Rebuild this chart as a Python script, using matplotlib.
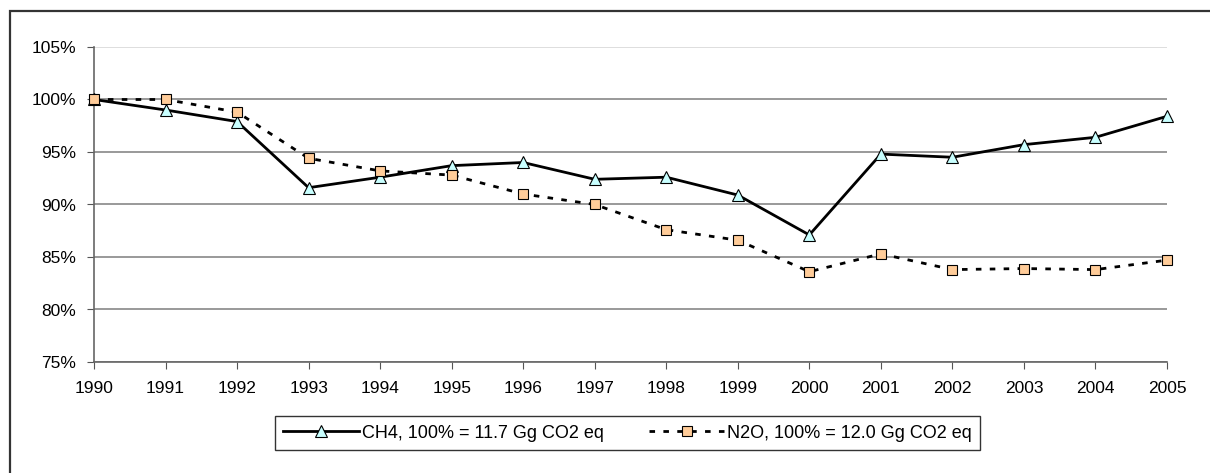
import matplotlib.pyplot as plt
from matplotlib.patches import Rectangle
from matplotlib.ticker import FuncFormatter

years = list(range(1990, 2006))
ch4 = [100.0, 99.0, 97.9, 91.6, 92.6, 93.7, 94.0, 92.4, 92.6, 90.9,
       87.1, 94.8, 94.5, 95.7, 96.4, 98.4]
n2o = [100.0, 100.0, 98.8, 94.4, 93.2, 92.8, 91.0, 90.0, 87.6, 86.6,
       83.6, 85.3, 83.8, 83.9, 83.8, 84.7]
labels = ['CH4, 100% = 11.7 Gg CO2 eq', 'N2O, 100% = 12.0 Gg CO2 eq']

plt.rcParams['font.family'] = ['Liberation Sans', 'DejaVu Sans']

W, H = 1210, 473
fig = plt.figure(figsize=(W / 100, H / 100), dpi=100)

# outer chart border (runs off the right and bottom edges)
fig.patches.append(Rectangle((10 / W, -0.05), 1.1, 1 - 11 / H + 0.05,
                             transform=fig.transFigure, fill=False,
                             edgecolor='#333333', linewidth=1.6))

ax = fig.add_axes([94 / W, (H - 362) / H, (1167 - 94) / W, (362 - 47) / H])

ax.plot(years, ch4, color='black', linewidth=2, marker='^', markersize=8,
        markerfacecolor='#c8ffff', markeredgecolor='black', markeredgewidth=0.8,
        label=labels[0], zorder=3, clip_on=False)
ax.plot(years, n2o, color='black', linewidth=2, linestyle=(0, (2, 3)), marker='s',
        markersize=7.5, markerfacecolor='#ffcc99', markeredgecolor='black',
        markeredgewidth=0.8, label=labels[1], zorder=3, clip_on=False)

ax.set_xlim(1990, 2005)
ax.set_ylim(75, 105)
ax.set_xticks(years)
ax.set_yticks(range(75, 106, 5))
ax.yaxis.set_major_formatter(FuncFormatter(lambda v, p: f'{v:.0f}%'))
ax.tick_params(labelsize=12.5, length=5, color='#555555', direction='out', pad=8)
ax.tick_params(axis='x', pad=9)

ax.grid(axis='y', color='#888888', linewidth=1.2)
for s in ['top', 'right']:
    ax.spines[s].set_visible(False)
for s in ['left', 'bottom']:
    ax.spines[s].set_color('#666666')
    ax.spines[s].set_linewidth(1.2)
ax.set_axisbelow(True)

# top gridline at 105% is lighter
ax.get_ygridlines()[-1].set_color('#d8d8d8')

leg = fig.legend(loc='center', bbox_to_anchor=((274 + 981) / 2 / W, 1 - 433 / H),
                 ncol=2, fontsize=13, frameon=True, fancybox=False,
                 edgecolor='black', handlelength=4.2, columnspacing=2.5,
                 handletextpad=0.15, borderpad=0.45)
leg.get_frame().set_linewidth(1)

fig.savefig('out.png', dpi=100)
